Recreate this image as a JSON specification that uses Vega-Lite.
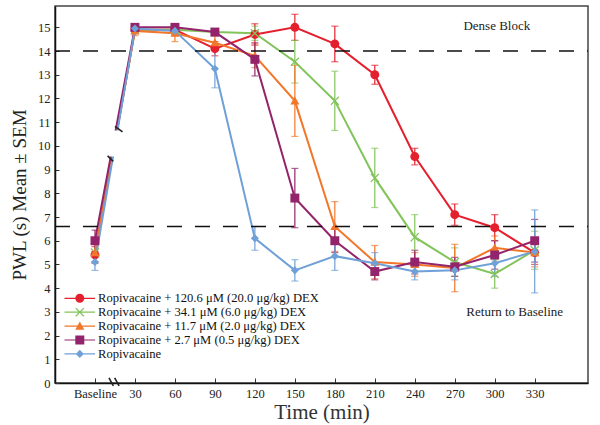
{
  "$schema": "https://vega.github.io/schema/vega-lite/v6.json",
  "width": 533,
  "height": 377,
  "autosize": "none",
  "padding": {"left": 55, "top": 6, "right": 12, "bottom": 42},
  "config": {
    "view": {"stroke": "#444", "strokeWidth": 1.5},
    "font": "Liberation Serif",
    "axis": {"labelFont": "Liberation Serif", "titleFont": "Liberation Serif", "labelColor": "#222", "titleColor": "#222", "titleFontWeight": "normal", "grid": false, "domainColor": "#111", "domainWidth": 1.5, "tickColor": "#333"}
  },
  "datasets": {
    "main": [
      {"s": "Ropivacaine + 120.6 μM (20.0 μg/kg) DEX", "t": 0, "v": 5.4, "e": 0.35},
      {"s": "Ropivacaine + 120.6 μM (20.0 μg/kg) DEX", "t": 30, "v": 14.9, "e": 0.15},
      {"s": "Ropivacaine + 120.6 μM (20.0 μg/kg) DEX", "t": 60, "v": 14.9, "e": 0.2},
      {"s": "Ropivacaine + 120.6 μM (20.0 μg/kg) DEX", "t": 90, "v": 14.1, "e": 0.3},
      {"s": "Ropivacaine + 120.6 μM (20.0 μg/kg) DEX", "t": 120, "v": 14.7, "e": 0.45},
      {"s": "Ropivacaine + 120.6 μM (20.0 μg/kg) DEX", "t": 150, "v": 15.0, "e": 0.55},
      {"s": "Ropivacaine + 120.6 μM (20.0 μg/kg) DEX", "t": 180, "v": 14.3, "e": 0.75},
      {"s": "Ropivacaine + 120.6 μM (20.0 μg/kg) DEX", "t": 210, "v": 13.0, "e": 0.4},
      {"s": "Ropivacaine + 120.6 μM (20.0 μg/kg) DEX", "t": 240, "v": 9.55, "e": 0.35},
      {"s": "Ropivacaine + 120.6 μM (20.0 μg/kg) DEX", "t": 270, "v": 7.1, "e": 0.45},
      {"s": "Ropivacaine + 120.6 μM (20.0 μg/kg) DEX", "t": 300, "v": 6.55, "e": 0.55},
      {"s": "Ropivacaine + 120.6 μM (20.0 μg/kg) DEX", "t": 330, "v": 5.5, "e": 0.5},
      {"s": "Ropivacaine + 34.1 μM (6.0 μg/kg) DEX", "t": 0, "v": 5.5, "e": 0.4},
      {"s": "Ropivacaine + 34.1 μM (6.0 μg/kg) DEX", "t": 30, "v": 14.9, "e": 0.1},
      {"s": "Ropivacaine + 34.1 μM (6.0 μg/kg) DEX", "t": 60, "v": 14.9, "e": 0.2},
      {"s": "Ropivacaine + 34.1 μM (6.0 μg/kg) DEX", "t": 90, "v": 14.8, "e": 0.15},
      {"s": "Ropivacaine + 34.1 μM (6.0 μg/kg) DEX", "t": 120, "v": 14.75, "e": 0.3},
      {"s": "Ropivacaine + 34.1 μM (6.0 μg/kg) DEX", "t": 150, "v": 13.55, "e": 0.9},
      {"s": "Ropivacaine + 34.1 μM (6.0 μg/kg) DEX", "t": 180, "v": 11.9, "e": 1.25},
      {"s": "Ropivacaine + 34.1 μM (6.0 μg/kg) DEX", "t": 210, "v": 8.65, "e": 1.25},
      {"s": "Ropivacaine + 34.1 μM (6.0 μg/kg) DEX", "t": 240, "v": 6.15, "e": 0.95},
      {"s": "Ropivacaine + 34.1 μM (6.0 μg/kg) DEX", "t": 270, "v": 5.1, "e": 0.6},
      {"s": "Ropivacaine + 34.1 μM (6.0 μg/kg) DEX", "t": 300, "v": 4.6, "e": 0.6},
      {"s": "Ropivacaine + 34.1 μM (6.0 μg/kg) DEX", "t": 330, "v": 5.6, "e": 0.8},
      {"s": "Ropivacaine + 11.7 μM (2.0 μg/kg) DEX", "t": 0, "v": 5.5, "e": 0.4},
      {"s": "Ropivacaine + 11.7 μM (2.0 μg/kg) DEX", "t": 30, "v": 14.85, "e": 0.2},
      {"s": "Ropivacaine + 11.7 μM (2.0 μg/kg) DEX", "t": 60, "v": 14.75, "e": 0.35},
      {"s": "Ropivacaine + 11.7 μM (2.0 μg/kg) DEX", "t": 90, "v": 14.35, "e": 0.3},
      {"s": "Ropivacaine + 11.7 μM (2.0 μg/kg) DEX", "t": 120, "v": 13.8, "e": 0.5},
      {"s": "Ropivacaine + 11.7 μM (2.0 μg/kg) DEX", "t": 150, "v": 11.9, "e": 1.5},
      {"s": "Ropivacaine + 11.7 μM (2.0 μg/kg) DEX", "t": 180, "v": 6.6, "e": 1.05},
      {"s": "Ropivacaine + 11.7 μM (2.0 μg/kg) DEX", "t": 210, "v": 5.1, "e": 0.7},
      {"s": "Ropivacaine + 11.7 μM (2.0 μg/kg) DEX", "t": 240, "v": 5.0, "e": 0.5},
      {"s": "Ropivacaine + 11.7 μM (2.0 μg/kg) DEX", "t": 270, "v": 4.85, "e": 1.0},
      {"s": "Ropivacaine + 11.7 μM (2.0 μg/kg) DEX", "t": 300, "v": 5.7, "e": 0.5},
      {"s": "Ropivacaine + 11.7 μM (2.0 μg/kg) DEX", "t": 330, "v": 5.5, "e": 0.6},
      {"s": "Ropivacaine + 2.7 μM (0.5 μg/kg) DEX", "t": 0, "v": 6.0, "e": 0.45},
      {"s": "Ropivacaine + 2.7 μM (0.5 μg/kg) DEX", "t": 30, "v": 15.0, "e": 0.1},
      {"s": "Ropivacaine + 2.7 μM (0.5 μg/kg) DEX", "t": 60, "v": 15.0, "e": 0.15},
      {"s": "Ropivacaine + 2.7 μM (0.5 μg/kg) DEX", "t": 90, "v": 14.8, "e": 0.15},
      {"s": "Ropivacaine + 2.7 μM (0.5 μg/kg) DEX", "t": 120, "v": 13.65, "e": 0.7},
      {"s": "Ropivacaine + 2.7 μM (0.5 μg/kg) DEX", "t": 150, "v": 7.8, "e": 1.25},
      {"s": "Ropivacaine + 2.7 μM (0.5 μg/kg) DEX", "t": 180, "v": 6.0, "e": 0.5},
      {"s": "Ropivacaine + 2.7 μM (0.5 μg/kg) DEX", "t": 210, "v": 4.7, "e": 0.35},
      {"s": "Ropivacaine + 2.7 μM (0.5 μg/kg) DEX", "t": 240, "v": 5.1, "e": 0.5},
      {"s": "Ropivacaine + 2.7 μM (0.5 μg/kg) DEX", "t": 270, "v": 4.9, "e": 0.4},
      {"s": "Ropivacaine + 2.7 μM (0.5 μg/kg) DEX", "t": 300, "v": 5.4, "e": 0.6},
      {"s": "Ropivacaine + 2.7 μM (0.5 μg/kg) DEX", "t": 330, "v": 6.0, "e": 0.9},
      {"s": "Ropivacaine", "t": 0, "v": 5.1, "e": 0.35},
      {"s": "Ropivacaine", "t": 30, "v": 14.95, "e": 0.1},
      {"s": "Ropivacaine", "t": 60, "v": 14.85, "e": 0.2},
      {"s": "Ropivacaine", "t": 90, "v": 13.25, "e": 0.8},
      {"s": "Ropivacaine", "t": 120, "v": 6.1, "e": 0.5},
      {"s": "Ropivacaine", "t": 150, "v": 4.75, "e": 0.45},
      {"s": "Ropivacaine", "t": 180, "v": 5.35, "e": 0.6},
      {"s": "Ropivacaine", "t": 210, "v": 5.05, "e": 0.45},
      {"s": "Ropivacaine", "t": 240, "v": 4.7, "e": 0.35},
      {"s": "Ropivacaine", "t": 270, "v": 4.75, "e": 0.4},
      {"s": "Ropivacaine", "t": 300, "v": 5.05, "e": 0.55},
      {"s": "Ropivacaine", "t": 330, "v": 5.55, "e": 1.75}
    ],
    "gap": [{"t": 3, "t2": 27, "v": 9.55, "v2": 10.65}],
    "breaks": [
      {"t": 9.5, "v": 9.58, "t2": 13.7, "v2": 9.35},
      {"t": 15.0, "v": 10.82, "t2": 20.7, "v2": 10.59},
      {"t": 10.5, "v": 0.22, "t2": 13.8, "v2": -0.12},
      {"t": 14.8, "v": 0.22, "t2": 18.1, "v2": -0.12}
    ],
    "hlines": [{"t": -30, "t2": 370, "v": 14}, {"t": -30, "t2": 370, "v": 6.6}],
    "notes": [
      {"t": 301.6, "v": 15.04, "label": "Dense Block"},
      {"t": 315, "v": 3.0, "label": "Return to Baseline"}
    ]
  },
  "encoding": {
    "x": {"field": "t", "type": "quantitative", "scale": {"domain": [-30, 370], "nice": false, "zero": false},
      "axis": {"values": [0, 30, 60, 90, 120, 150, 180, 210, 240, 270, 300, 330], "labelExpr": "datum.value == 0 ? 'Baseline' : datum.label", "title": "Time (min)", "titleFontSize": 21, "titleFontWeight": "normal", "titleColor": "#333", "titlePadding": 2, "labelFontSize": 12.5, "tickSize": -5, "labelPadding": 9, "labelFlush": false}},
    "y": {"field": "v", "type": "quantitative", "scale": {"domain": [0, 15.9], "nice": false},
      "axis": {"values": [0, 1, 2, 3, 4, 5, 6, 7, 8, 9, 10, 11, 12, 13, 14, 15], "title": "PWL (s) Mean ± SEM", "titleFontSize": 19, "titleFontWeight": "normal", "titlePadding": 8, "labelFontSize": 12.5, "tickSize": -4, "labelPadding": 9}}
  },
  "layer": [
    {
      "data": {"name": "main"},
      "mark": {"type": "errorbar", "ticks": {"size": 7}, "thickness": 1.2},
      "encoding": {
        "yError": {"field": "e"},
        "color": {"field": "s", "type": "nominal", "legend": null, "scale": {"domain": ["Ropivacaine + 120.6 μM (20.0 μg/kg) DEX", "Ropivacaine + 34.1 μM (6.0 μg/kg) DEX", "Ropivacaine + 11.7 μM (2.0 μg/kg) DEX", "Ropivacaine + 2.7 μM (0.5 μg/kg) DEX", "Ropivacaine"], "range": ["#e5202e", "#82c45a", "#f2772a", "#93246b", "#6fa0d8"]}}
      }
    },
    {
      "data": {"name": "main"},
      "mark": {"type": "line", "strokeWidth": 2},
      "encoding": {
        "color": {"field": "s", "type": "nominal", "legend": null, "scale": {"domain": ["Ropivacaine + 120.6 μM (20.0 μg/kg) DEX", "Ropivacaine + 34.1 μM (6.0 μg/kg) DEX", "Ropivacaine + 11.7 μM (2.0 μg/kg) DEX", "Ropivacaine + 2.7 μM (0.5 μg/kg) DEX", "Ropivacaine"], "range": ["#e5202e", "#82c45a", "#f2772a", "#93246b", "#6fa0d8"]}}
      }
    },
    {
      "data": {"name": "main"},
      "mark": {"type": "point", "filled": true, "opacity": 1, "size": 80},
      "encoding": {
        "color": {"field": "s", "type": "nominal", "legend": null, "scale": {"domain": ["Ropivacaine + 120.6 μM (20.0 μg/kg) DEX", "Ropivacaine + 34.1 μM (6.0 μg/kg) DEX", "Ropivacaine + 11.7 μM (2.0 μg/kg) DEX", "Ropivacaine + 2.7 μM (0.5 μg/kg) DEX", "Ropivacaine"], "range": ["#e5202e", "#82c45a", "#f2772a", "#93246b", "#6fa0d8"]}},
        "shape": {"field": "s", "type": "nominal", "legend": null, "scale": {"domain": ["Ropivacaine + 120.6 μM (20.0 μg/kg) DEX", "Ropivacaine + 34.1 μM (6.0 μg/kg) DEX", "Ropivacaine + 11.7 μM (2.0 μg/kg) DEX", "Ropivacaine + 2.7 μM (0.5 μg/kg) DEX", "Ropivacaine"], "range": ["circle", "M-1,-0.8L-0.8,-1L0,-0.2L0.8,-1L1,-0.8L0.2,0L1,0.8L0.8,1L0,0.2L-0.8,1L-1,0.8L-0.2,0Z", "M0,-1L1,0.8L-1,0.8Z", "square", "M0,-0.9L0.9,0L0,0.9L-0.9,0Z"]}}
      }
    },
    {
      "data": {"name": "gap"},
      "mark": {"type": "rect", "color": "white"},
      "encoding": {
        "x2": {"field": "t2"},
        "y2": {"field": "v2"}
      }
    },
    {
      "data": {"name": "breaks"},
      "mark": {"type": "rule", "color": "#222", "strokeWidth": 1.6},
      "encoding": {
        "x2": {"field": "t2"},
        "y2": {"field": "v2"}
      }
    },
    {
      "data": {"name": "hlines"},
      "mark": {"type": "rule", "color": "#111", "strokeWidth": 1.5, "strokeDash": [15, 13]},
      "encoding": {
        "x2": {"field": "t2"}
      }
    },
    {
      "data": {"name": "notes"},
      "mark": {"type": "text", "font": "Liberation Serif", "fontSize": 13, "color": "#222"},
      "encoding": {
        "text": {"field": "label"}
      }
    },
    {
      "data": {"name": "main"},
      "mark": {"type": "point", "filled": true, "opacity": 0, "size": 81},
      "encoding": {
        "color": {"field": "s", "type": "nominal", "scale": {"domain": ["Ropivacaine + 120.6 μM (20.0 μg/kg) DEX", "Ropivacaine + 34.1 μM (6.0 μg/kg) DEX", "Ropivacaine + 11.7 μM (2.0 μg/kg) DEX", "Ropivacaine + 2.7 μM (0.5 μg/kg) DEX", "Ropivacaine"], "range": ["#e5202e", "#82c45a", "#f2772a", "#93246b", "#6fa0d8"]},
          "legend": {"orient": "none", "legendX": 18.5, "legendY": 286, "title": null, "labelFont": "Liberation Serif", "labelFontSize": 12.6, "labelColor": "#111", "labelLimit": 400, "symbolOpacity": 1, "symbolSize": 81, "symbolStrokeWidth": 0, "rowPadding": 0.9, "labelOffset": 12}},
        "shape": {"field": "s", "type": "nominal", "scale": {"domain": ["Ropivacaine + 120.6 μM (20.0 μg/kg) DEX", "Ropivacaine + 34.1 μM (6.0 μg/kg) DEX", "Ropivacaine + 11.7 μM (2.0 μg/kg) DEX", "Ropivacaine + 2.7 μM (0.5 μg/kg) DEX", "Ropivacaine"], "range": [
            "M-3.4,-0.13H3.4V0.13H-3.4Z M-1,0A1,1 0 1,1 1,0A1,1 0 1,1 -1,0Z",
            "M-3.4,-0.13H3.4V0.13H-3.4Z M-1,-0.8L-0.8,-1L0,-0.2L0.8,-1L1,-0.8L0.2,0L1,0.8L0.8,1L0,0.2L-0.8,1L-1,0.8L-0.2,0Z",
            "M-3.4,-0.13H3.4V0.13H-3.4Z M0,-1L1,0.8L-1,0.8Z",
            "M-3.4,-0.13H3.4V0.13H-3.4Z M-1,-1H1V1H-1Z",
            "M-3.4,-0.13H3.4V0.13H-3.4Z M0,-0.9L0.9,0L0,0.9L-0.9,0Z"]},
          "legend": {"orient": "none", "legendX": 18.5, "legendY": 286, "title": null, "labelFont": "Liberation Serif", "labelFontSize": 12.6, "labelColor": "#111", "labelLimit": 400, "symbolOpacity": 1, "symbolSize": 81, "symbolStrokeWidth": 0, "rowPadding": 0.9, "labelOffset": 12}}
      }
    }
  ],
  "resolve": {"scale": {"color": "independent", "shape": "independent"}}
}
